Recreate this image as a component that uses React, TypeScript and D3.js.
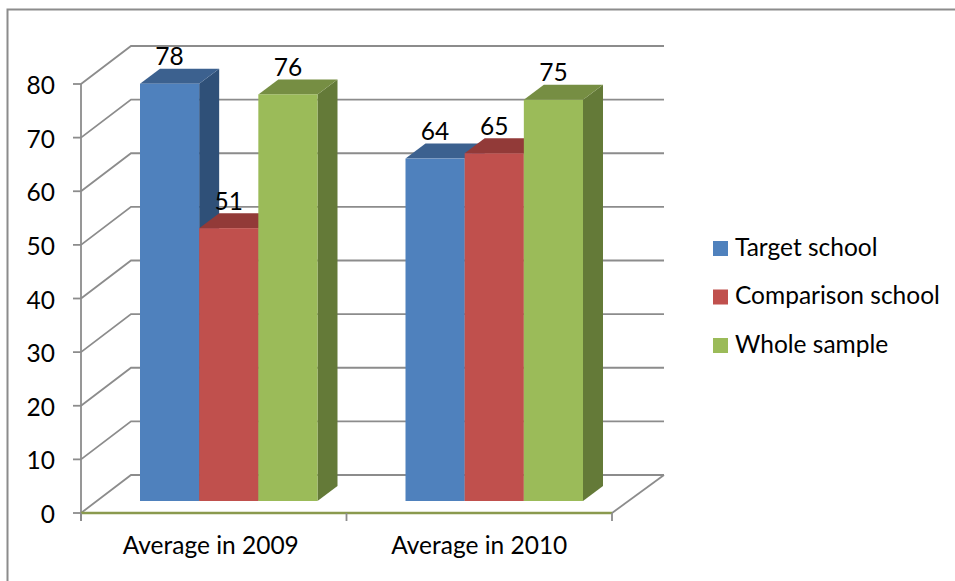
import React from 'react';
import * as d3 from 'd3';

// values
const categories = ['Average in 2009', 'Average in 2010'];
const seriesNames = ['Target school', 'Comparison school', 'Whole sample'];
const target = [78, 64];
const comparison = [51, 65];
const whole = [76, 75];
const seriesValues = [target, comparison, whole];
const yTicks = [0, 10, 20, 30, 40, 50, 60, 70, 80];

// front, top, side shades per series
const colors = [
  ['#4f81bd', '#3c618f', '#2f5078'],
  ['#c0504d', '#923a38', '#7d302e'],
  ['#9bbb59', '#768e43', '#647a38'],
];

const width = 955;
const height = 581;
const font = 'Lato, "Open Sans", sans-serif';
const gridColor = '#8c8c8c';
const textSize = 24.5;

// floor depth of the 3D box and of the bars
const wallDx = 50;
const wallDy = -38;
const barDx = 20;
const barDy = -15;

const y = d3.scaleLinear().domain([0, 80]).range([513, 84]);
// bars stand 12px in front of the axis baseline on the floor
const barY = d3.scaleLinear().domain([0, 80]).range([501, 73]);
const x0 = d3.scaleBand().domain(categories).range([81, 612]);
const x1 = d3.scaleBand().domain(seriesNames).range([0, 177.5]);

const App: React.FC = () => {
  const x0Start = x0.range()[0];
  const x0End = x0.range()[1];

  const bars = categories.flatMap((cat, c) =>
    seriesNames.map((name, s) => ({ cat, c, name, s, value: seriesValues[s][c] }))
  );
  const barLeft = (b: { cat: string; name: string }) =>
    (x0(b.cat) as number) + 59 + (x1(b.name) as number);

  return (
    <svg
      width={width}
      height={height}
      style={{ position: 'absolute', left: 0, top: 0, background: '#fff' }}
      fontFamily={font}
    >
      {/* outer frame, cut off by the crop on right and bottom */}
      <path d={`M7.5,${height} V9.5 H${width}`} fill="none" stroke="#8c8c8c" strokeWidth={2} />

      {/* walls */}
      {yTicks.map(t => (
        <path
          key={t}
          d={`M${x0Start},${y(t)} L${x0Start + wallDx},${y(t) + wallDy} H664`}
          fill="none"
          stroke={gridColor}
          strokeWidth={1.8}
        />
      ))}
      <path
        d={`M${x0End},${y(0)} L664,${y(0) + wallDy}`}
        fill="none"
        stroke={gridColor}
        strokeWidth={1.8}
      />

      {/* y axis */}
      <line x1={x0Start} x2={x0Start} y1={y(80)} y2={y(0) + 8} stroke={gridColor} strokeWidth={1.8} />
      {yTicks.map(t => (
        <g key={t}>
          <line x1={x0Start - 8} x2={x0Start} y1={y(t)} y2={y(t)} stroke={gridColor} strokeWidth={1.8} />
          <text x={x0Start - 26} y={y(t) + 10} textAnchor="end" fontSize={textSize} fill="#000">
            {t}
          </text>
        </g>
      ))}

      {/* x axis */}
      <line x1={x0Start} x2={x0End} y1={y(0)} y2={y(0)} stroke="#8a9a4e" strokeWidth={2.5} />
      {[x0Start, x0Start + x0.bandwidth(), x0End].map(v => (
        <line key={v} x1={v} x2={v} y1={y(0)} y2={y(0) + 8} stroke={gridColor} strokeWidth={1.8} />
      ))}
      {categories.map((cat, i) => (
        <text
          key={cat}
          x={(x0(cat) as number) + x0.bandwidth() / 2 - (i === 0 ? 3 : 0)}
          y={554}
          textAnchor="middle"
          fontSize={textSize}
          fill="#000"
        >
          {cat}
        </text>
      ))}

      {/* bars, back to front by series */}
      {bars.map(b => {
        const left = barLeft(b);
        const w = x1.bandwidth();
        const top = barY(b.value);
        const base = barY(0);
        const [front, topColor, side] = colors[b.s];
        return (
          <g key={b.cat + b.name}>
            <path
              d={`M${left + w},${top} l${barDx},${barDy} V${base + barDy} L${left + w},${base} Z`}
              fill={side}
            />
            <path d={`M${left},${top} l${barDx},${barDy} h${w} l${-barDx},${-barDy} Z`} fill={topColor} />
            <rect x={left} y={top} width={w} height={base - top} fill={front} />
          </g>
        );
      })}

      {/* value labels */}
      {bars.map(b => (
        <text
          key={b.cat + b.name}
          x={barLeft(b) + x1.bandwidth() / 2}
          y={barY(b.value) - 18.5}
          textAnchor="middle"
          fontSize={textSize}
          fill="#000"
        >
          {b.value}
        </text>
      ))}

      {/* legend */}
      {seriesNames.map((name, i) => (
        <g key={name} transform={`translate(713,${248.5 + i * 48.5})`}>
          <rect x={0} y={-7.5} width={15} height={15} fill={colors[i][0]} />
          <text x={22} y={7} fontSize={textSize} fill="#000">
            {name}
          </text>
        </g>
      ))}
    </svg>
  );
};

export default App;
